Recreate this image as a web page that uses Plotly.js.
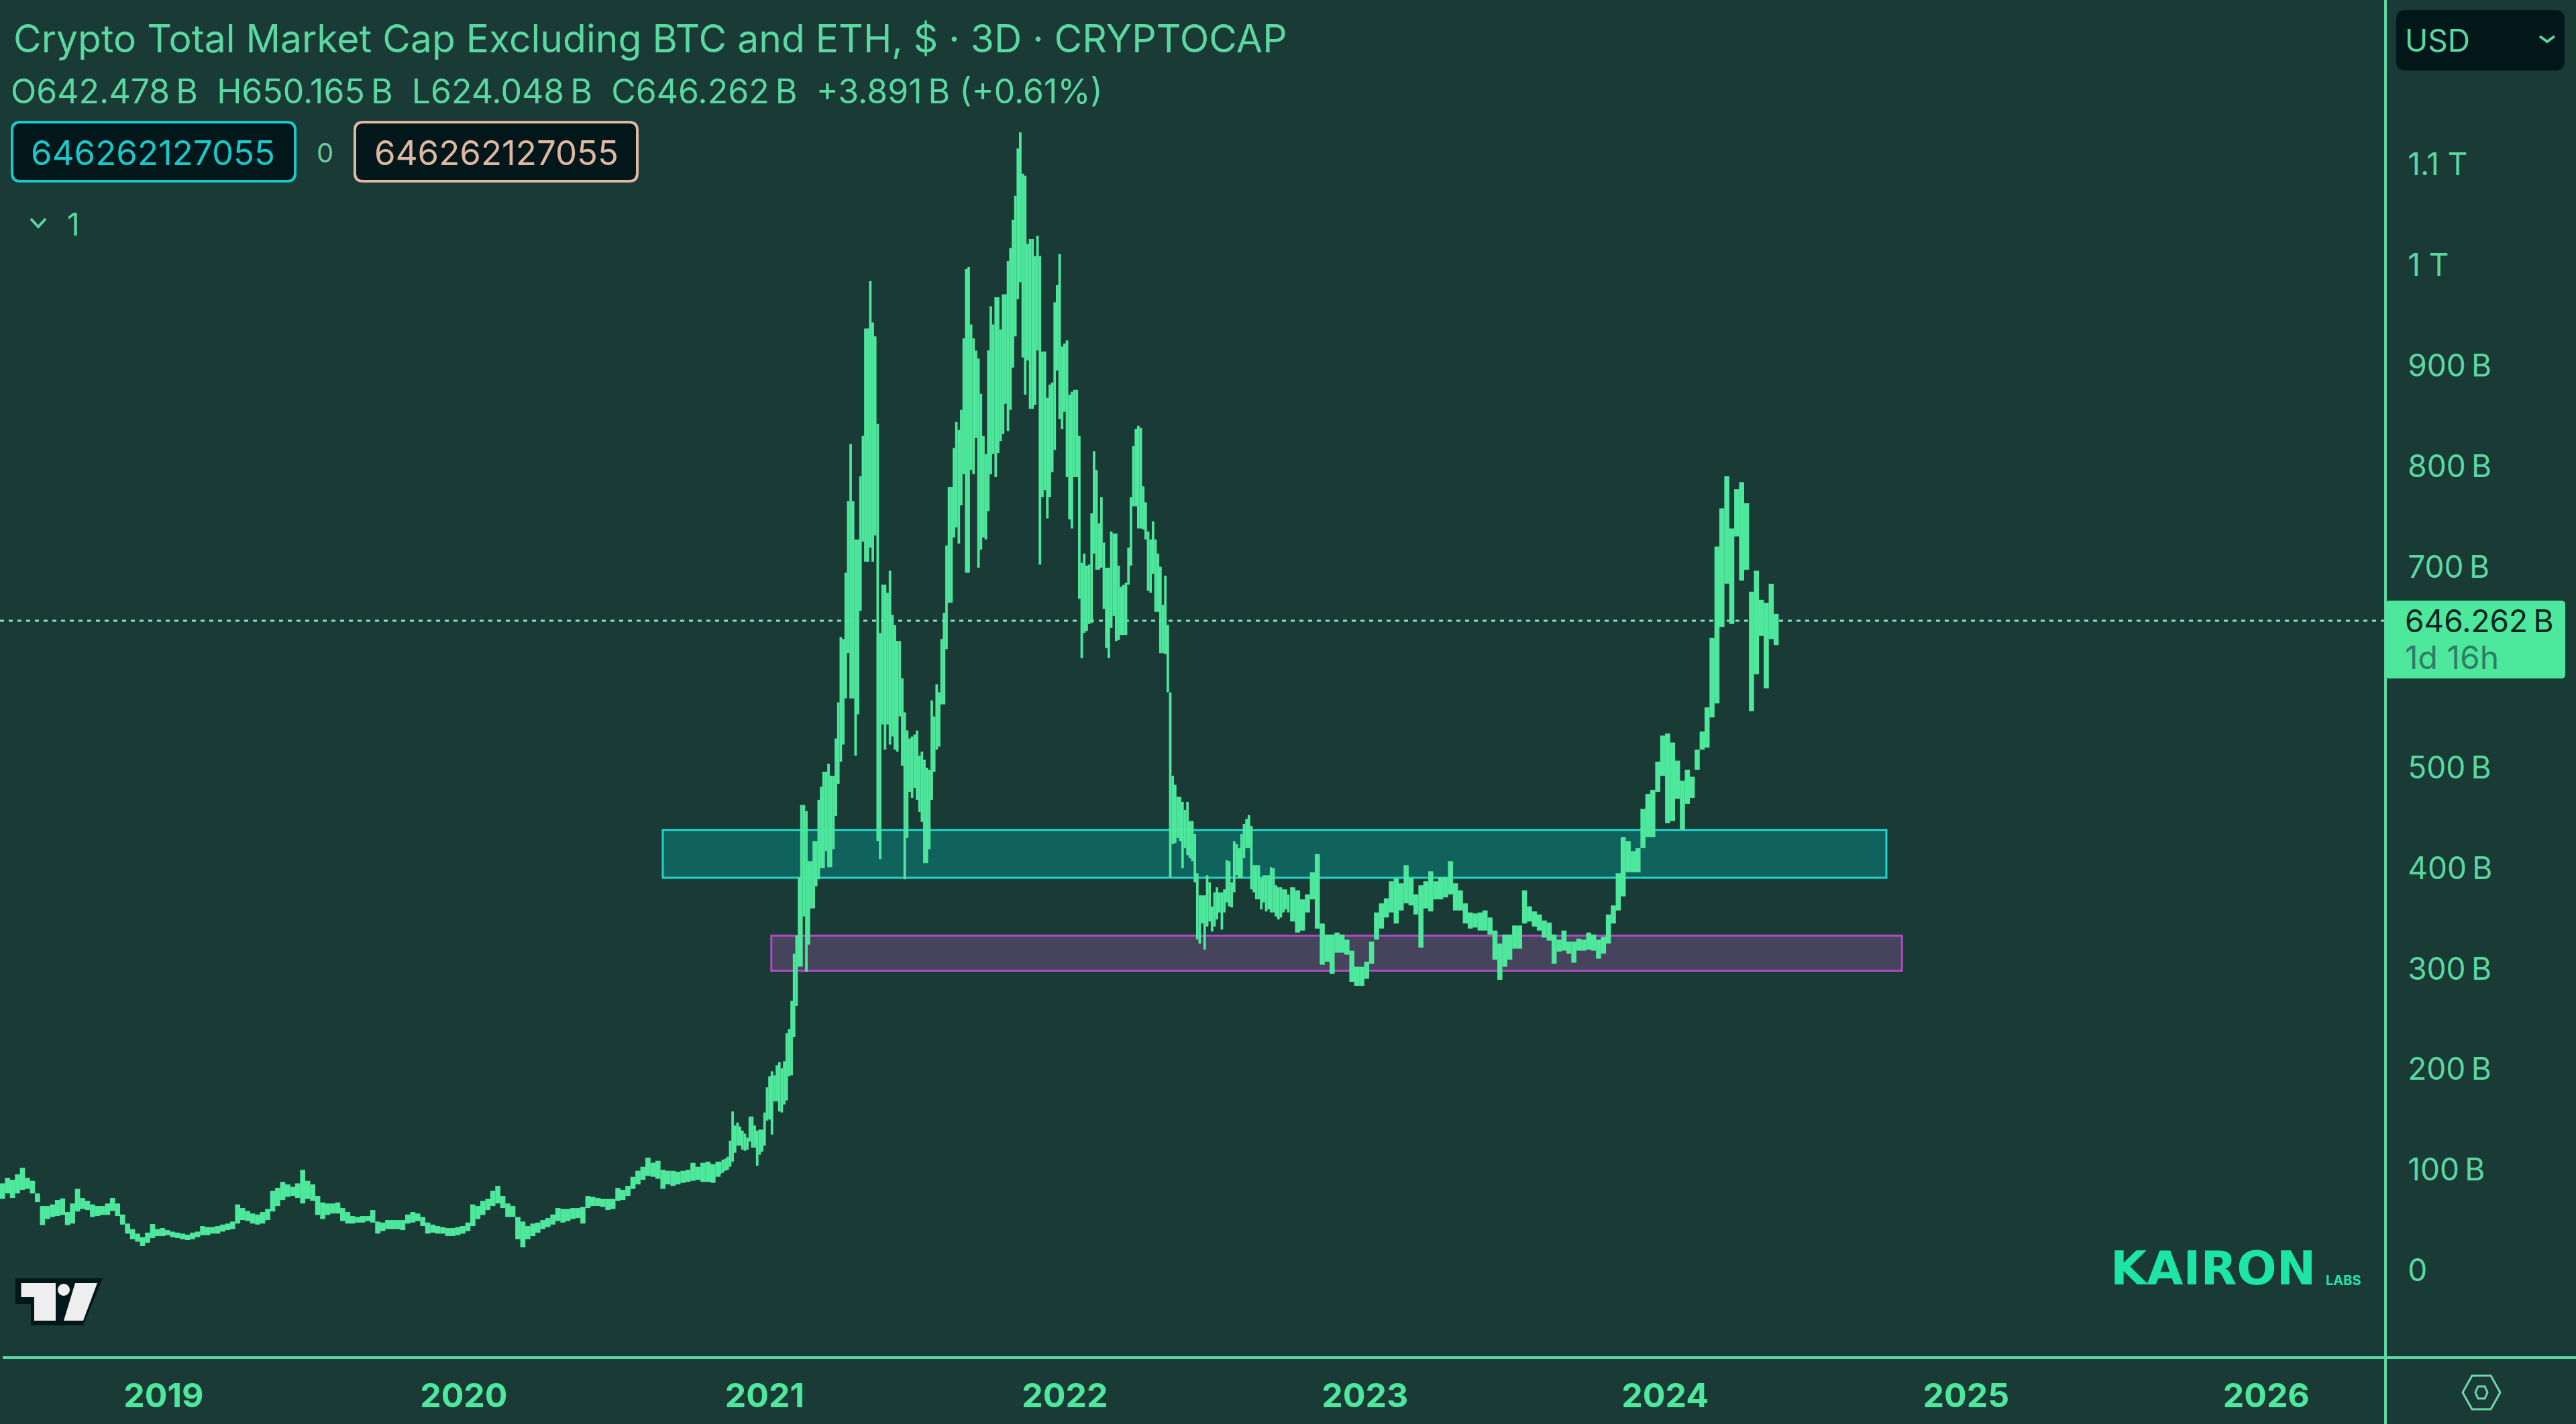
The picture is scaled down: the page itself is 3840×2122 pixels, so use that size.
<!DOCTYPE html>
<html><head><meta charset="utf-8">
<script src="https://cdn.plot.ly/plotly-3.0.1.min.js"></script>
<style>html,body{margin:0;padding:0;background:#1a3a35;overflow:hidden}</style>
</head><body><div id="chart" style="width:3840px;height:2122px"></div>
<script>
// values in billions of USD (high / low of each bar)
const earlyStart = '2018-06-19', earlyStepDays = 6.085;
const earlyHigh = [
86.5,92,90,95.5,102,92,89,76.5,64,64,65.5,70,71.5,58,66.5,81,72,69,65.5,64,
64,66.5,72,66.5,55.5,46.5,41,36.5,33,37.5,46,41,42,40,38.5,37.5,36.5,35.5,37.5,38.5,
44,43,43,44,45.5,46.5,48.5,65.5,62,59,56.5,55.5,58,61,79,82,88,85.5,83,86.5,
100,89,85.5,74,67.5,66.5,66.5,67.5,62,58,54,53,54,54,60,48.5,47.5,50,50,50,
50,55.5,58,56.5,53,47.5,45.5,44,43,42,42,43,44,47.5,65.5,64,69,71,79,84,
74,66.5,64,53,48.5,44,46.5,47.5,50,52,55.5,62,61,61,62,62,63,74,73,72,
71,71,71,82,80,84,93,99,103,112,107,109,100,99,99,98,99,100,107,103,
107,108,105.5,108];
const earlyLow = [
71,76.5,72,76.5,80,81,76.5,68,45,51,53,54,55,45,46.5,58.5,61,60,53,54,
55,55,59,54,45.5,36.5,31,28.5,24,27.5,32,34,34,35,33,32,31,30,31,33,
35,35,36.5,36.5,38.5,40,41,46.5,50,49,46.5,45.5,46.5,50,58.5,64,70,73,74,72,
66.5,71,69,55,51,55,56.5,56.5,49,46.5,46.5,47.5,47.5,49,47.5,36.5,39,41,41,41,
40,46.5,47.5,49,44,36.5,37.5,36.5,36.5,34,34,35,36.5,39,44,51,55,60,64,66.5,
62,53,53,31,23,31,34,37.5,41,43,45.5,49,47.5,49,51,52,46.5,62,64,64,
63,60,61,69,70,74,81,85.5,90,94,93,91,81,85.5,84,85.5,87,88,89,90,
88,88,87,93];

const cycleStart = '2020-11-08', cycleStepDays = 2.99;
const cycleHigh = [
108,110,111,113,129,158,144,147,143,139,
136,132,153,153,144,139,140,140,157,182,
193,198,194,204,207,201,208,236,240,268,
315,333,391,463,463,457,407,407,427,427,
468,481,496,496,
504,492,492,529,565,630,628,694,765,822,
765,727,727,790,830,937,937,984,943,929,
842,634,682,682,674,696,652,642,626,626,
589,555,537,529,531,533,537,512,516,508,
500,498,567,551,583,575,628,654,721,779,
779,818,844,836,856,927,996,998,941,927,
915,907,872,830,812,915,959,941,
968,968,936,971,971,1004,1017,1045,1069,1116,
1132,1091,1089,1021,1026,1026,1009,1029,1009,914,
914,868,881,883,963,980,1011,919,922,925,
871,874,876,876,830,704,713,701,702,753,
815,796,743,769,724,699,699,735,733,733,
701,680,682,684,719,769,820,837,840,838,
780,764,735,727,745,727,713,700,662,691,
642,575,492,483,471,471,466,458,466,447,
447,434,395,373,373,373,393,386,362,376,
381,376,376,379,408,407,386,427,424,420,
434,444,449,453,442,403,403,403,390,393,
393,393,401,400,383,381,381,379,379,374];
const cycleLow = [
96,97,99,100,103,108,117,124,124,120,
119,120,128,122,122,104,115,118,124,149,
150,135,168,168,158,157,165,169,193,194,
232,263,302,302,352,297,324,360,360,382,
389,400,400,417,
401,401,419,452,484,506,523,569,614,569,
569,512,553,656,725,705,705,719,705,731,
427,409,543,518,543,523,531,518,516,551,
502,389,430,476,470,480,468,456,446,405,
405,419,468,496,518,521,563,563,618,664,
664,729,739,723,761,792,694,694,796,792,
828,699,717,729,727,755,792,812,
789,813,825,832,862,835,856,898,929,966,
983,908,871,905,857,857,861,915,702,769,
776,748,769,794,816,895,847,837,854,789,
747,738,789,789,668,609,634,636,643,644,
713,697,697,699,658,619,609,639,651,626,
627,632,632,632,682,701,760,760,738,738,
737,727,676,674,693,655,655,614,614,613,
575,391,424,425,430,427,400,420,413,410,
407,386,329,325,345,319,342,347,337,342,
349,356,339,356,366,362,361,376,393,390,
390,410,420,420,379,376,369,369,359,366,
357,359,356,356,352,349,351,356,359,356];

const lateStart = '2022-10-05', lateStepDays = 6;
const lateHigh = [
381,378,369,374,396,414,345,334,334,336,
334,329,318,302,302,307,327,356,365,370,
387,390,385,403,390,374,383,387,397,387,
391,391,407,385,378,365,356,355,356,358,
351,338,325,334,334,343,343,378,362,357,
354,348,346,334,329,338,327,327,330,329,
336,334,329,332,354,363,395,431,427,417,
420,459,474,478,506,532,534,525,507,487,
498,491,518,536,560,629,720,758,790,738,
777,784,763,675,696,667,664,683,653];
const lateLow = [
347,336,338,356,369,340,304,307,295,316,
316,314,287,283,283,290,305,329,340,351,
356,345,358,365,363,354,321,360,357,369,
369,371,374,358,358,345,340,341,338,338,
334,309,289,302,309,320,320,345,347,342,
338,331,328,305,317,318,315,306,318,318,
319,318,310,315,325,345,358,372,396,396,
396,420,431,431,476,492,445,447,469,438,
464,470,498,518,520,550,564,640,683,643,
730,686,697,556,593,631,579,628,622];

const yearTicks = ['2019','2020','2021','2022','2023','2024','2025','2026'];
const priceTicks = [0,100,200,300,400,500,600,700,800,900,1000,1100];
const priceLabels = ['0','100\u2009B','200\u2009B','300\u2009B','400\u2009B','500\u2009B','600\u2009B','700\u2009B','800\u2009B','900\u2009B','1 T','1.1 T'];
const lastPrice = 646.262;
const tealZone = {from:'2020-08-30', to:'2024-09-26', low:390.5, high:438};
const purpleZone = {from:'2021-01-09', to:'2024-10-15', low:298, high:333};
const chartTitle = 'Crypto Total Market Cap Excluding BTC and ETH, $ \u00b7 3D \u00b7 CRYPTOCAP';
const ohlcLine = 'O642.478\u2009B  H650.165\u2009B  L624.048\u2009B  C646.262\u2009B  +3.891\u2009B (+0.61%)';

const MINT='#4ee89d', BG='#1a3a35', FONT='Inter, "Noto Sans", sans-serif';
const DAY=86400000, PW=3556, PH=2023;
const X=p=>p/PW, Y=p=>1-p/PH;

function series(start, step, highs, lows, name){
  const t0=new Date(start+'T00:00:00Z').getTime();
  return {type:'bar', name,
    x:highs.map((_,i)=>new Date(t0+i*step*DAY).toISOString()),
    y:highs.map((h,i)=>h-lows[i]), base:lows.slice(0,highs.length),
    width:step*DAY*1.03,
    marker:{color:MINT,line:{width:0}}, hoverinfo:'skip', showlegend:false};
}
const traces=[series(earlyStart,earlyStepDays,earlyHigh,earlyLow,'2018-2020'),
              series(cycleStart,cycleStepDays,cycleHigh,cycleLow,'2020-2022'),
              series(lateStart,lateStepDays,lateHigh,lateLow,'2022-2024')];

function poly(pts,fill,line,lw,closed=true){
  const d=pts.map((p,i)=>(i?'L':'M')+X(p[0])+','+Y(p[1])).join(' ')+(closed?' Z':'');
  return {type:'path',xref:'paper',yref:'paper',layer:'above',path:d,fillcolor:fill||'rgba(0,0,0,0)',
          line:{color:line||'rgba(0,0,0,0)',width:lw||0}};
}
function round(x0,y0,x1,y1,r,fill,line,lw){
  const P=(a,b)=>X(a)+','+Y(b);
  const d=`M${P(x0+r,y0)} L${P(x1-r,y0)} Q${P(x1,y0)} ${P(x1,y0+r)} L${P(x1,y1-r)} Q${P(x1,y1)} ${P(x1-r,y1)} L${P(x0+r,y1)} Q${P(x0,y1)} ${P(x0,y1-r)} L${P(x0,y0+r)} Q${P(x0,y0)} ${P(x0+r,y0)} Z`;
  return {type:'path',xref:'paper',yref:'paper',layer:'above',path:d,fillcolor:fill,line:{color:line||'rgba(0,0,0,0)',width:lw||0}};
}
function zone(z,fill,line){
  return {type:'rect',xref:'x',yref:'y',layer:'below',x0:z.from,x1:z.to,y0:z.low,y1:z.high,fillcolor:fill,line:{color:line,width:3}};
}
function label(text,px,py,size,color,opts){
  return Object.assign({xref:'paper',yref:'paper',x:X(px),y:Y(py),text,showarrow:false,xanchor:'left',yanchor:'middle',
    font:{family:FONT,size,color}},opts||{});
}

const shapes=[
  {type:'line',xref:'paper',yref:'y',layer:'below',x0:0,x1:1,y0:lastPrice,y1:lastPrice,line:{color:'#7fe8bb',width:3,dash:'6px,7px'}},
  zone(tealZone,'#10625c','#1cd6cc'),
  zone(purpleZone,'#46435c','#b14bc4'),
  // frame lines
  {type:'line',xref:'paper',yref:'paper',layer:'above',x0:X(4),x1:X(3840),y0:Y(2023),y1:Y(2023),line:{color:'#5ad8a0',width:4}},
  {type:'line',xref:'paper',yref:'paper',layer:'above',x0:X(3556),x1:X(3556),y0:Y(0),y1:Y(2122),line:{color:'#5ad8a0',width:4}},
  // price tag
  round(3556,895,3824,1011,6,MINT),
  // value boxes
  round(18,182,440,270,12,'#02171a','#19c8c8',4),
  round(529,182,950,270,12,'#02171a','#e0b7a2',4),
  // USD box
  round(3572,15,3823,105,14,'#02171a'),
  poly([[3786,54],[3797,62],[3808,54]],null,'#5ad8a0',4,false),
  // fold chevron
  poly([[46,326],[57,338],[68,326]],null,'#5ad8a0',4,false),
  // TradingView mark
  poly([[23,1905],[153,1905],[124,1975],[46,1975],[46,1943],[23,1943]],'#02171a'),
  poly([[31.5,1912],[83,1912],[83,1968],[51,1968],[51,1933],[31.5,1933]],'#eeeeee'),
  poly([[112,1912],[145,1912],[124,1968],[95,1968]],'#eeeeee'),
  {type:'circle',xref:'paper',yref:'paper',layer:'above',x0:X(86),x1:X(104),y0:Y(1913),y1:Y(1931),fillcolor:'#eeeeee',line:{width:0}},
  // settings icon
  poly([[3671,2075],[3685,2050],[3713,2050],[3727,2075],[3713,2100],[3685,2100]],null,'#6fd8a8',3),
  poly([[3690,2075],[3694,2066],[3704,2066],[3708,2075],[3704,2084],[3694,2084]],null,'#6fd8a8',3)
];

const annotations=[
  label(chartTitle,18,58,57,'#5ad8a0'),
  label(ohlcLine,14,136,50,'#5ad8a0',{}),
  label('646262127055',44,227,51,'#19c8c8'),
  label('646262127055',556,227,51,'#e0b7a2'),
  label('0',470,227,40,'#6fc89e'),
  label('1',98,334,46,'#5ad8a0'),
  label('USD',3583,60,46,'#5ad8a0'),
  label('646.262\u2009B',3583,925,46,'#06231f'),
  label('1d 16h',3583,979,48,'#2e7d68'),
  label('KAIRON',3144,1890,70,'#1de5a4',{font:{family:'"DejaVu Sans", sans-serif',size:70,color:'#1de5a4',weight:700}}),
  label('<b>LABS</b>',3465,1908,20,'#1de5a4')
];

const layout={
  width:3840,height:2122,paper_bgcolor:BG,plot_bgcolor:BG,
  margin:{l:0,r:284,t:0,b:99,autoexpand:false},
  barmode:'overlay',showlegend:false,
  xaxis:{type:'date',range:['2018-06-16','2026-05-26'],showgrid:false,zeroline:false,showline:false,
    tickmode:'array',tickvals:yearTicks.map(y=>y+'-01-01'),ticktext:yearTicks,
    ticks:'outside',ticklen:13,tickcolor:'rgba(0,0,0,0)',
    tickfont:{family:FONT,size:50,color:MINT,weight:700}},
  yaxis:{side:'right',range:[-86.8,1263.7],showgrid:false,zeroline:false,showline:false,
    tickmode:'array',tickvals:priceTicks,ticktext:priceLabels,
    ticks:'outside',ticklen:23,tickcolor:'rgba(0,0,0,0)',
    tickfont:{family:FONT,size:46,color:'#5ad8a0'}},
  shapes,annotations
};
Plotly.newPlot('chart',traces,layout,{displayModeBar:false,staticPlot:true});
</script></body></html>
